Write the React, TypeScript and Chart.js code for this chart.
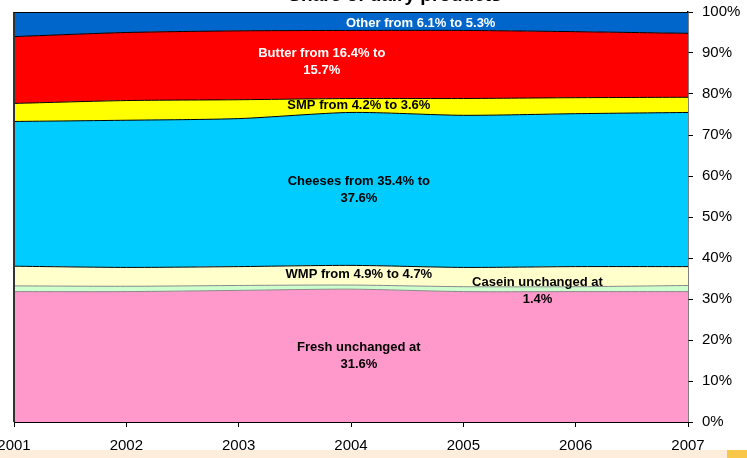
import React, { useEffect, useRef } from "react";
import { Chart, registerables } from "chart.js";

Chart.register(...registerables);

const years = ["2001", "2002", "2003", "2004", "2005", "2006", "2007"];
const fresh = [31.8, 31.8, 32.1, 32.4, 31.8, 31.8, 31.8];
const casein = [1.4, 1.3, 1.2, 1.0, 1.2, 1.2, 1.5];
const wmp = [4.8, 4.6, 4.6, 4.8, 4.7, 4.9, 4.6];
const cheeses = [35.3, 35.9, 36.1, 37.3, 37.1, 37.3, 37.6];
const smp = [4.4, 4.8, 4.6, 3.4, 4.1, 3.9, 3.7];
const butter = [16.3, 16.6, 16.8, 16.6, 16.6, 16.1, 15.6];
const other = [6.0, 5.0, 4.6, 4.5, 4.5, 4.8, 5.2];
const yTicks = [0, 10, 20, 30, 40, 50, 60, 70, 80, 90, 100];

const titleText = "Share of dairy products";

// annotation texts placed in data coordinates (category index, percent)
const notes = [
  { lines: ["Other from 6.1% to 5.3%"], x: 3.62, y: 97.2, color: "#ffffff" },
  { lines: ["Butter from 16.4% to", "15.7%"], x: 2.74, y: 87.8, color: "#ffffff" },
  { lines: ["SMP from 4.2% to 3.6%"], x: 3.07, y: 77.2, color: "#000000" },
  { lines: ["Cheeses from 35.4% to", "37.6%"], x: 3.07, y: 56.7, color: "#000000" },
  { lines: ["WMP from 4.9% to 4.7%"], x: 3.07, y: 36.0, color: "#000000" },
  { lines: ["Casein unchanged at", "1.4%"], x: 4.66, y: 32.0, color: "#000000" },
  { lines: ["Fresh unchanged at", "31.6%"], x: 3.07, y: 16.1, color: "#000000" },
];

const FONT = "'Liberation Sans', Arial, Helvetica, sans-serif";

export default function App() {
  const ref = useRef<HTMLCanvasElement | null>(null);

  useEffect(() => {
    document.body.style.margin = "0";
    const canvas = ref.current;
    if (!canvas) return;

    const series = [
      { label: "Fresh", data: fresh, bg: "#FF99CC", line: "#8a8a8a" },
      { label: "Casein", data: casein, bg: "#CCFFCC", line: "#8a8a8a" },
      { label: "WMP", data: wmp, bg: "#FFFFCC", line: "#000000" },
      { label: "Cheeses", data: cheeses, bg: "#00CCFF", line: "#000000" },
      { label: "SMP", data: smp, bg: "#FFFF00", line: "#000000" },
      { label: "Butter", data: butter, bg: "#FF0000", line: "#000000" },
      { label: "Other", data: other, bg: "#0066CC", line: "#000000" },
    ];

    const overlay = {
      id: "overlay",
      afterDraw(chart: any) {
        const { ctx, chartArea } = chart;
        const xs = chart.scales.x;
        const ys = chart.scales.y;
        ctx.save();
        // left border of plot
        ctx.strokeStyle = "#333333";
        ctx.lineWidth = 2;
        ctx.beginPath();
        ctx.moveTo(chartArea.left, chartArea.top);
        ctx.lineTo(chartArea.left, chartArea.bottom);
        ctx.stroke();
        ctx.lineWidth = 1;
        ctx.strokeStyle = "#000000";
        ctx.beginPath();
        ctx.moveTo(chartArea.left, chartArea.top + 0.5);
        ctx.lineTo(chartArea.right, chartArea.top + 0.5);
        ctx.stroke();
        // notes
        ctx.font = "bold 13px " + FONT;
        ctx.textAlign = "center";
        ctx.textBaseline = "middle";
        for (const n of notes) {
          const px = xs.getPixelForValue(n.x);
          const py = ys.getPixelForValue(n.y);
          ctx.fillStyle = n.color;
          const lh = 17;
          const startY = py - ((n.lines.length - 1) * lh) / 2;
          n.lines.forEach((t, i) => ctx.fillText(t, px, startY + i * lh));
        }
        // title (mostly cut off at top)
        ctx.font = "bold 19px " + FONT;
        ctx.fillStyle = "#000000";
        ctx.textBaseline = "alphabetic";
        ctx.fillText(titleText, 395, 1);
        ctx.restore();
      },
    };

    const chart = new Chart(canvas, {
      type: "line",
      data: {
        labels: years,
        datasets: series.map((s, i) => ({
          label: s.label,
          data: s.data,
          backgroundColor: s.bg,
          borderColor: s.line,
          borderWidth: 1,
          fill: i === 0 ? "origin" : "-1",
          pointRadius: 0,
          pointHoverRadius: 0,
          tension: 0.25,
        })),
      },
      options: {
        animation: false,
        responsive: false,
        maintainAspectRatio: false,
        events: [],
        layout: { padding: { top: 12, left: 14, right: 0, bottom: 0 } },
        plugins: {
          legend: { display: false },
          title: { display: false },
          tooltip: { enabled: false },
        },
        scales: {
          x: {
            type: "category",
            offset: false,
            grid: {
              display: true,
              drawOnChartArea: false,
              drawTicks: true,
              tickLength: 5,
              color: "#000000",
            },
            border: { display: true, color: "#000000", width: 1 },
            ticks: {
              color: "#000000",
              font: { size: 15, family: FONT },
              padding: 10,
              maxRotation: 0,
              autoSkip: false,
            },
            afterFit(scale: any) {
              scale.paddingLeft = 0;
              scale.paddingRight = 0;
              scale.height = 36;
            },
          },
          y: {
            position: "right",
            stacked: true,
            min: 0,
            max: 100,
            afterBuildTicks(scale: any) {
              scale.ticks = yTicks.map((v) => ({ value: v }));
            },
            grid: {
              display: true,
              drawOnChartArea: false,
              drawTicks: true,
              tickLength: 5,
              color: "#000000",
            },
            border: { display: true, color: "#000000", width: 1.5 },
            ticks: {
              color: "#000000",
              font: { size: 15, family: FONT },
              padding: 9,
              callback: (v: any) => v + "%",
            },
            afterFit(scale: any) {
              scale.width = 59;
              scale.paddingTop = 0;
              scale.paddingBottom = 0;
            },
          },
        },
      },
      plugins: [overlay],
    });

    return () => chart.destroy();
  }, []);

  return (
    <div style={{ position: "relative", width: 747, height: 458, background: "#ffffff", overflow: "hidden" }}>
      <div style={{ position: "absolute", left: 0, top: 450, width: 727, height: 8, background: "#FDEDDA" }} />
      <div style={{ position: "absolute", left: 727, top: 450, width: 20, height: 8, background: "#F9C84A" }} />
      <canvas ref={ref} width={747} height={458} style={{ position: "absolute", left: 0, top: 0, display: "block" }} />
    </div>
  );
}
